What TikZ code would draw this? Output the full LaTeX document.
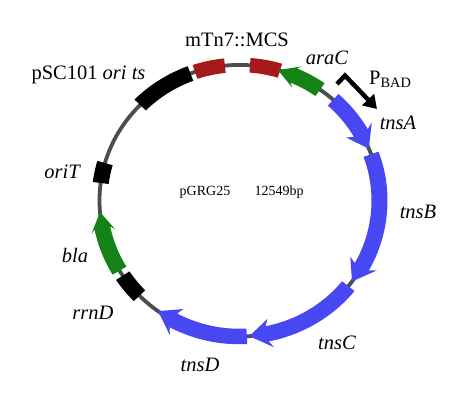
\documentclass[tikz,border=0pt]{standalone}
\usepackage{fontspec}
\setmainfont{Liberation Serif}
\usetikzlibrary{arrows.meta}
\definecolor{fblue}{RGB}{72,72,242}
\definecolor{fgreen}{RGB}{20,130,20}
\definecolor{fred}{RGB}{165,25,25}
\definecolor{fring}{RGB}{77,77,77}
% arc arrow: tail angle, tip angle, colour, head length (deg), head half width
\newcommand{\featarrow}[5]{%
  \pgfmathsetmacro{\mySgn}{ifthenelse(#2>#1,1,-1)}%
  \pgfmathsetmacro{\myHb}{#2-\mySgn*#4}%
  \pgfmathsetmacro{\myBb}{\myHb-\mySgn*1.5}%
  \pgfmathsetmacro{\myHo}{140+#5}%
  \pgfmathsetmacro{\myHi}{140-#5}%
  \fill[#3] ({#1}:148) arc[start angle=#1, end angle=\myHb, radius=148]
    -- ({\myBb}:{\myHo}) -- ({#2}:140) -- ({\myBb}:{\myHi})
    -- ({\myHb}:132) arc[start angle=\myHb, end angle=#1, radius=132] -- cycle;}
% arc box: start angle, end angle, colour, half width
\newcommand{\featbox}[4]{%
  \pgfmathsetmacro{\myHo}{140+#4}%
  \pgfmathsetmacro{\myHi}{140-#4}%
  \fill[#3] ({#1}:{\myHi}) -- ({#1}:{\myHo}) arc[start angle=#1, end angle=#2, radius=\myHo]
    -- ({#2}:{\myHi}) arc[start angle=#2, end angle=#1, radius=\myHi] -- cycle;}
\begin{document}
\begin{tikzpicture}[x=1pt,y=1pt,
  lab/.style={inner sep=0pt, font=\fontsize{20.5}{24}\selectfont\itshape},
  labup/.style={inner sep=0pt, font=\fontsize{20.5}{24}\selectfont},
  small/.style={inner sep=0pt, font=\fontsize{14}{17}\selectfont}]
\useasboundingbox[fill=white] (0,0) rectangle (474,-410);
\begin{scope}[shift={(239.5,-200.7)}, yscale=0.97]
  \draw[fring, line width=3.8pt] (0,0) circle[radius=140];
  % boxes
  \featbox{110.5}{135.2}{black}{8}
  \featbox{96}{108.5}{fred}{7.5}
  \featbox{73.2}{85.7}{fred}{7.5}
  \featbox{163.9}{172.5}{black}{8}
  \featbox{213.5}{224.4}{black}{8}
  % arrows
  \featarrow{54.9}{74}{fgreen}{6.8}{12}
  \featarrow{48}{22.5}{fblue}{7.4}{15}
  \featarrow{20}{-36.5}{fblue}{7.4}{15}
  \featarrow{-39}{-86}{fblue}{7.4}{15}
  \featarrow{-87}{-125.6}{fblue}{7.4}{15}
  \featarrow{211}{184.8}{fgreen}{6.8}{12}
\end{scope}
% promoter
\coordinate (pb0) at (337,-84);
\coordinate (pb1) at (345,-75.5);
\coordinate (pb2) at (377,-109);
\draw[line width=4.5pt, -{Triangle[length=13pt,width=16pt]}] (pb0) -- (pb1) -- (pb2);
% labels
\node[labup] (mcs) at (237,-40) {mTn7::MCS};
\node[labup] (psc) at (88.5,-75) {pSC101 \textit{ori ts}};
\node[lab] (arac) at (327,-58) {araC};
\node[labup, anchor=base west] (pbad) at (369,-84) {P\textsubscript{BAD}};
\node[lab] (tnsa) at (398,-123) {tnsA};
\node[lab] (tnsb) at (418,-212) {tnsB};
\node[lab] (orit) at (62,-172) {oriT};
\node[lab] (bla) at (75,-255) {bla};
\node[lab] (rrnd) at (93,-313) {rrnD};
\node[lab] (tnsd) at (200,-365) {tnsD};
\node[lab] (tnsc) at (337,-343) {tnsC};
\node[small] (name) at (205,-192) {pGRG25};
\node[small] (size) at (279,-192) {12549bp};
\end{tikzpicture}
\end{document}
